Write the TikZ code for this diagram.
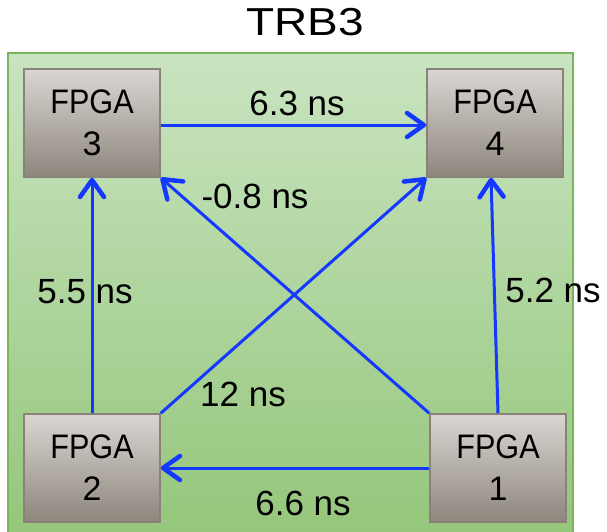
\documentclass[tikz,border=0pt]{standalone}
\usepackage{fontspec}
\usepackage{graphicx}
\setmainfont{Liberation Sans}
\usetikzlibrary{arrows.meta}
\definecolor{bgtop}{HTML}{C9E4C1}
\definecolor{bgbot}{HTML}{94C67A}
\definecolor{bgline}{HTML}{79B65A}
\definecolor{boxtop}{HTML}{D9D6D2}
\definecolor{boxbot}{HTML}{8E867D}
\definecolor{boxline}{HTML}{8A8278}
\definecolor{linkblue}{HTML}{1438FF}
\newcommand{\narrowtxt}[1]{\scalebox{0.9}[1]{#1}}
\begin{document}
\begin{tikzpicture}[x=1pt,y=-1pt,
  fpga/.style={draw=boxline, line width=1.5pt, top color=boxtop, bottom color=boxbot,
    minimum width=136pt, minimum height=108pt, inner sep=0pt, align=center,
    font=\fontsize{34}{42}\selectfont},
  link/.style={draw=linkblue, line width=3pt,
    -{Straight Barb[length=17pt,width=24pt,line width=4.5pt,round]}},
  lbl/.style={font=\fontsize{35}{40}\selectfont, inner sep=0pt}]
\useasboundingbox (0,0) rectangle (607,532);
\shade[top color=bgtop, bottom color=bgbot] (8,53) rectangle (573,540);
\draw[bgline, line width=2pt] (8,545) -- (8,53) -- (573,53) -- (573,545);
\node[font=\fontsize{39}{44}\selectfont, inner sep=0pt] (title) at (305,22) {\scalebox{1.18}[1]{TRB3}};
\node[fpga] (n3) at (92,123) {\narrowtxt{FPGA}\\3};
\node[fpga] (n4) at (495,123) {\narrowtxt{FPGA}\\4};
\node[fpga] (n2) at (92,468) {\narrowtxt{FPGA}\\2};
\node[fpga] (n1) at (498,468) {\narrowtxt{FPGA}\\1};
\draw[link] ([yshift=-2pt]n3.east) -- ([yshift=-2pt]n4.west);
\draw[link] (n1.west) -- (n2.east);
\draw[link] (n2.north) -- (n3.south);
\draw[link] (n1.north) -- ([xshift=-4pt]n4.south);
\draw[link] (n1.north west) -- (n3.south east);
\draw[link] (n2.north east) -- (n4.south west);
\node[lbl] (l34) at (297,103) {6.3 ns};
\node[lbl] (l13) at (255,196) {-0.8 ns};
\node[lbl] (l23) at (85,292) {5.5 ns};
\node[lbl] (l14) at (553,290) {5.2 ns};
\node[lbl] (l24) at (243,394) {12 ns};
\node[lbl] (l12) at (303,503) {6.6 ns};
\end{tikzpicture}
\end{document}
